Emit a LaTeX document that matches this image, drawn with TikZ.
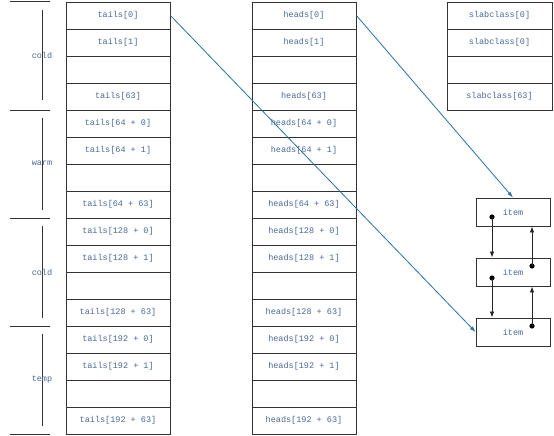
\documentclass[tikz,border=0pt]{standalone}
\usepackage{fontspec}
\setmonofont{Liberation Mono}
\usetikzlibrary{arrows.meta}
\definecolor{labelblue}{RGB}{72,104,150}
\definecolor{linkblue}{RGB}{40,112,170}
\begin{document}
\begin{tikzpicture}[x=1pt, y=-1pt, every node/.style={font=\ttfamily\fontsize{8.5}{10}\selectfont, text=labelblue}]
    %--------------------%
    % Parameters
    %--------------------%
    \def\rowh{27}
    \def\colw{104}
    \def\tailx{118}
    \def\headx{304}
    \def\slabx{499.5}
    \def\itemx{513}
    \def\linethic{0.9pt}

    \tikzset{
        cell/.style={draw=black!80, line width=\linethic, minimum width=\colw pt, minimum height=\rowh pt, inner sep=0pt},
        itembox/.style={draw=black!80, line width=\linethic, minimum width=74pt, minimum height=28pt, inner sep=0pt},
        ptr/.style={-{Latex[length=6pt,width=4.5pt]}, line width=0.8pt, black!85},
        link/.style={-{Latex[length=6pt,width=4pt]}, line width=0.8pt, linkblue}
    }

    \useasboundingbox (0,0) rectangle (554,436);

    %--------------------%
    % Tails Column
    %--------------------%
    \node[cell] (tail0) at (\tailx,15.5) {tails[0]};
    \node[cell] (tail1) at (\tailx,42.5) {tails[1]};
    \node[cell] (tail2) at (\tailx,69.5) {};
    \node[cell] (tail63) at (\tailx,96.5) {tails[63]};
    \node[cell] (tail64) at (\tailx,123.5) {tails[64 + 0]};
    \node[cell] (tail65) at (\tailx,150.5) {tails[64 + 1]};
    \node[cell] (tail66) at (\tailx,177.5) {};
    \node[cell] (tail127) at (\tailx,204.5) {tails[64 + 63]};
    \node[cell] (tail128) at (\tailx,231.5) {tails[128 + 0]};
    \node[cell] (tail129) at (\tailx,258.5) {tails[128 + 1]};
    \node[cell] (tail130) at (\tailx,285.5) {};
    \node[cell] (tail191) at (\tailx,312.5) {tails[128 + 63]};
    \node[cell] (tail192) at (\tailx,339.5) {tails[192 + 0]};
    \node[cell] (tail193) at (\tailx,366.5) {tails[192 + 1]};
    \node[cell] (tail194) at (\tailx,393.5) {};
    \node[cell] (tail255) at (\tailx,420.5) {tails[192 + 63]};

    %--------------------%
    % Heads Column
    %--------------------%
    \node[cell] (head0) at (\headx,15.5) {heads[0]};
    \node[cell] (head1) at (\headx,42.5) {heads[1]};
    \node[cell] (head2) at (\headx,69.5) {};
    \node[cell] (head63) at (\headx,96.5) {heads[63]};
    \node[cell] (head64) at (\headx,123.5) {heads[64 + 0]};
    \node[cell] (head65) at (\headx,150.5) {heads[64 + 1]};
    \node[cell] (head66) at (\headx,177.5) {};
    \node[cell] (head127) at (\headx,204.5) {heads[64 + 63]};
    \node[cell] (head128) at (\headx,231.5) {heads[128 + 0]};
    \node[cell] (head129) at (\headx,258.5) {heads[128 + 1]};
    \node[cell] (head130) at (\headx,285.5) {};
    \node[cell] (head191) at (\headx,312.5) {heads[128 + 63]};
    \node[cell] (head192) at (\headx,339.5) {heads[192 + 0]};
    \node[cell] (head193) at (\headx,366.5) {heads[192 + 1]};
    \node[cell] (head194) at (\headx,393.5) {};
    \node[cell] (head255) at (\headx,420.5) {heads[192 + 63]};

    %--------------------%
    % Slabclass Column
    %--------------------%
    \node[cell, minimum width=105pt] (slab0) at (\slabx,15.5) {slabclass[0]};
    \node[cell, minimum width=105pt] (slab1) at (\slabx,42.5) {slabclass[0]};
    \node[cell, minimum width=105pt] (slab2) at (\slabx,69.5) {};
    \node[cell, minimum width=105pt] (slab63) at (\slabx,96.5) {slabclass[63]};

    %--------------------%
    % Group Brackets
    %--------------------%
    \draw[line width=\linethic, black!80] (10,1) -- (50,1);
    \draw[line width=\linethic, black!80] (10,110) -- (50,110);
    \draw[line width=\linethic, black!80] (10,218) -- (50,218);
    \draw[line width=\linethic, black!80] (10,326) -- (50,326);
    \draw[line width=\linethic, black!80] (10,434) -- (50,434);
    \draw[line width=\linethic, black!80] (42,10) -- (42,100);
    \draw[line width=\linethic, black!80] (42,118) -- (42,210);
    \draw[line width=\linethic, black!80] (42,226) -- (42,318);
    \draw[line width=\linethic, black!80] (42,334) -- (42,426);
    \node (cold1) at (42,55) {cold};
    \node (warm) at (42,163) {warm};
    \node (cold2) at (42,272) {cold};
    \node (temp) at (42,380) {temp};

    %--------------------%
    % Item List
    %--------------------%
    \node[itembox] (item1) at (\itemx,212) {item};
    \node[itembox] (item2) at (\itemx,272) {item};
    \node[itembox] (item3) at (\itemx,332) {item};
    \coordinate (next1) at (492,217);
    \coordinate (next2) at (492,278);
    \coordinate (prev2) at (532,266);
    \coordinate (prev3) at (532,326);
    \fill[black] (next1) circle (2.6pt);
    \fill[black] (next2) circle (2.6pt);
    \fill[black] (prev2) circle (2.6pt);
    \fill[black] (prev3) circle (2.6pt);
    \draw[ptr] (next1) -- (next1 |- item2.north);
    \draw[ptr] (next2) -- (next2 |- item3.north);
    \draw[ptr] (prev3) -- (prev3 |- item2.south);
    \draw[ptr] (prev2) -- (prev2 |- item1.south);

    %--------------------%
    % Links
    %--------------------%
    \draw[link] (head0.east) -- (item1.north);
    \draw[link] (tail0.east) -- (item3.west);
\end{tikzpicture}
\end{document}
